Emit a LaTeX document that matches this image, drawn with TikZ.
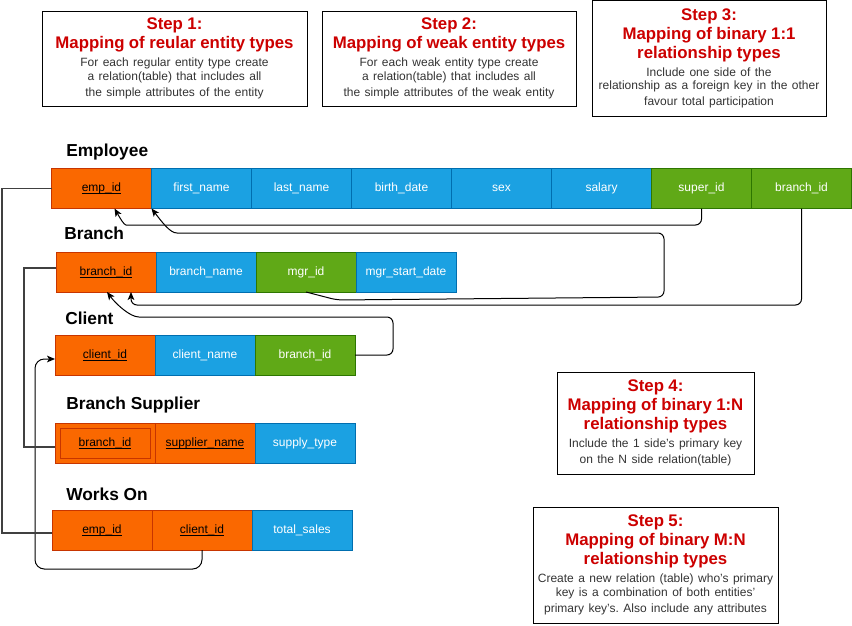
\documentclass[tikz,border=0pt]{standalone}
\usepackage{fontspec}
\setmainfont{Liberation Sans}
\usetikzlibrary{positioning,calc,arrows.meta}
\frenchspacing
\definecolor{keyfill}{HTML}{FA6800}
\definecolor{keyline}{HTML}{C73500}
\definecolor{attrfill}{HTML}{1BA1E2}
\definecolor{attrline}{HTML}{006EAF}
\definecolor{fkfill}{HTML}{60A917}
\definecolor{fkline}{HTML}{2D7600}
\definecolor{steptitle}{HTML}{CC0000}
\definecolor{stepnote}{HTML}{333333}
\newcommand{\titlef}{\fontsize{12.6}{14.3}\selectfont\bfseries\color{steptitle}}
\newcommand{\notef}{\par\vspace{3.4pt}\fontsize{9}{10.1}\selectfont\mdseries\color{stepnote}}
\newcommand{\keyname}[1]{\setbox0\hbox{#1}\rlap{\rule[-1.7pt]{\wd0}{0.6pt}}\box0}
\tikzset{
    cell/.style={rectangle, minimum width=75pt, minimum height=30pt, inner sep=0pt,
    	outer sep=0pt, line width=0.75pt, font=\fontsize{9}{11}\selectfont},
    keycell/.style={cell, fill=keyfill, draw=keyline, text=black},
    attrcell/.style={cell, fill=attrfill, draw=attrline, text=white},
    fkcell/.style={cell, fill=fkfill, draw=fkline, text=white},
    tablename/.style={anchor=west, inner sep=0pt, font=\fontsize{13}{15}\selectfont\bfseries}
}
\tikzset{
    stepbox/.style={rectangle, draw, line width=0.75pt, align=center, inner sep=0pt}
}
\tikzset{
    reflink/.style={draw=black, line width=0.75pt, rounded corners=4.5pt,
    	-{Stealth[length=6pt,width=5pt,inset=1.5pt]}},
    idlink/.style={draw=black!75, line width=1.4pt}
}

\begin{document}
\begin{tikzpicture}[x=0.75pt, y=-0.75pt]
  \useasboundingbox (0,0) rectangle (852,625);

  % step boxes
  \node (step1) [stepbox, minimum width=198.75pt, minimum height=71.25pt, text width=194pt]
    at (174.5,58.5) {\titlef Step 1:\\Mapping of reular entity types
    \notef For each regular entity type create\\a relation(table) that includes all\\the simple attributes of the entity};
  \node (step2) [stepbox, minimum width=190.5pt, minimum height=71.25pt, text width=186pt]
    at (449,58.5) {\titlef Step 2:\\Mapping of weak entity types
    \notef For each weak entity type create\\a relation(table) that includes all\\the simple attributes of the weak entity};
  \node (step3) [stepbox, minimum width=175.5pt, minimum height=86.6pt, text width=171pt]
    at (709,58.3) {\titlef Step 3:\\Mapping of binary 1:1\\relationship types
    \notef Include one side of the\\relationship as a foreign key in the other\\favour total participation};
  \node (step4) [stepbox, minimum width=147.75pt, minimum height=76.5pt, text width=144pt]
    at (655.5,423) {\titlef Step 4:\\Mapping of binary 1:N\\relationship types
    \notef Include the 1 side's primary key\\on the N side relation(table)};
  \node (step5) [stepbox, minimum width=183.75pt, minimum height=87pt, text width=180pt]
    at (655.5,565) {\titlef Step 5:\\Mapping of binary M:N\\relationship types
    \notef Create a new relation (table) who's primary\\key is a combination of both entities'\\primary key's. Also include any attributes};

  % Employee
  \node (emplabel) [tablename] at (66,152) {Employee};
  \node (e1) [keycell] at (101.5,188.5) {\keyname{emp\_id}};
  \node (e2) [attrcell, right=0pt of e1] {first\_name};
  \node (e3) [attrcell, right=0pt of e2] {last\_name};
  \node (e4) [attrcell, right=0pt of e3] {birth\_date};
  \node (e5) [attrcell, right=0pt of e4] {sex};
  \node (e6) [attrcell, right=0pt of e5] {salary};
  \node (e7) [fkcell, right=0pt of e6] {super\_id};
  \node (e8) [fkcell, right=0pt of e7] {branch\_id};

  % Branch
  \node (brlabel) [tablename] at (64,233) {Branch};
  \node (b1) [keycell] at (106,272) {\keyname{branch\_id}};
  \node (b2) [attrcell, right=0pt of b1] {branch\_name};
  \node (b3) [fkcell, right=0pt of b2] {mgr\_id};
  \node (b4) [attrcell, right=0pt of b3] {mgr\_start\_date};

  % Client
  \node (cllabel) [tablename] at (65,318) {Client};
  \node (c1) [keycell] at (105,355) {\keyname{client\_id}};
  \node (c2) [attrcell, right=0pt of c1] {client\_name};
  \node (c3) [fkcell, right=0pt of c2] {branch\_id};

  % Branch Supplier
  \node (bslabel) [tablename] at (66,405) {Branch Supplier};
  \node (s1) [keycell] at (105,443) {\keyname{branch\_id}};
  \node (s2) [keycell, right=0pt of s1] {\keyname{supplier\_name}};
  \node (s3) [attrcell, right=0pt of s2] {supply\_type};
  \draw [keyline, line width=0.75pt] ($(s1.south west)+(5,-5)$) rectangle ($(s1.north east)+(-5,5)$);

  % Works On
  \node (wolabel) [tablename] at (66,494) {Works On};
  \node (w1) [keycell] at (102,530) {\keyname{emp\_id}};
  \node (w2) [keycell, right=0pt of w1] {\keyname{client\_id}};
  \node (w3) [attrcell, right=0pt of w2] {total\_sales};

  % foreign keys
  \draw[reflink] (e7.south) |- (132,225) .. controls (124,225) and (120,218) .. ($(e1.south)+(13,0)$);
  \draw[reflink] (b3.south) -- (337,300) -- (664,297) -- (664,233) -- (183,233)
    .. controls (170,233) and (162,222) .. (e1.south east);
  \draw[reflink] (e8.south) |- ($(b1.south)+(25,13)$) -- ($(b1.south)+(25,0)$);
  \draw[reflink] (c3.east) -- (393,355) -- (393,317) -- (145,317)
    .. controls (130,317) and (116,304) .. ($(b1.south)+(1,0)$);
  \draw[reflink, rounded corners=7pt] (w2.south) |- (35,569) |- ([yshift=-3pt]c1.west);

  % identifying keys
  \draw[idlink] ([yshift=-3pt]s1.west) -- ++(-31,0) |- ([yshift=3pt]b1.west);
  \draw[idlink] ([yshift=-2pt]w1.west) -- ++(-50,0) |- (e1.west);
\end{tikzpicture}
\end{document}
